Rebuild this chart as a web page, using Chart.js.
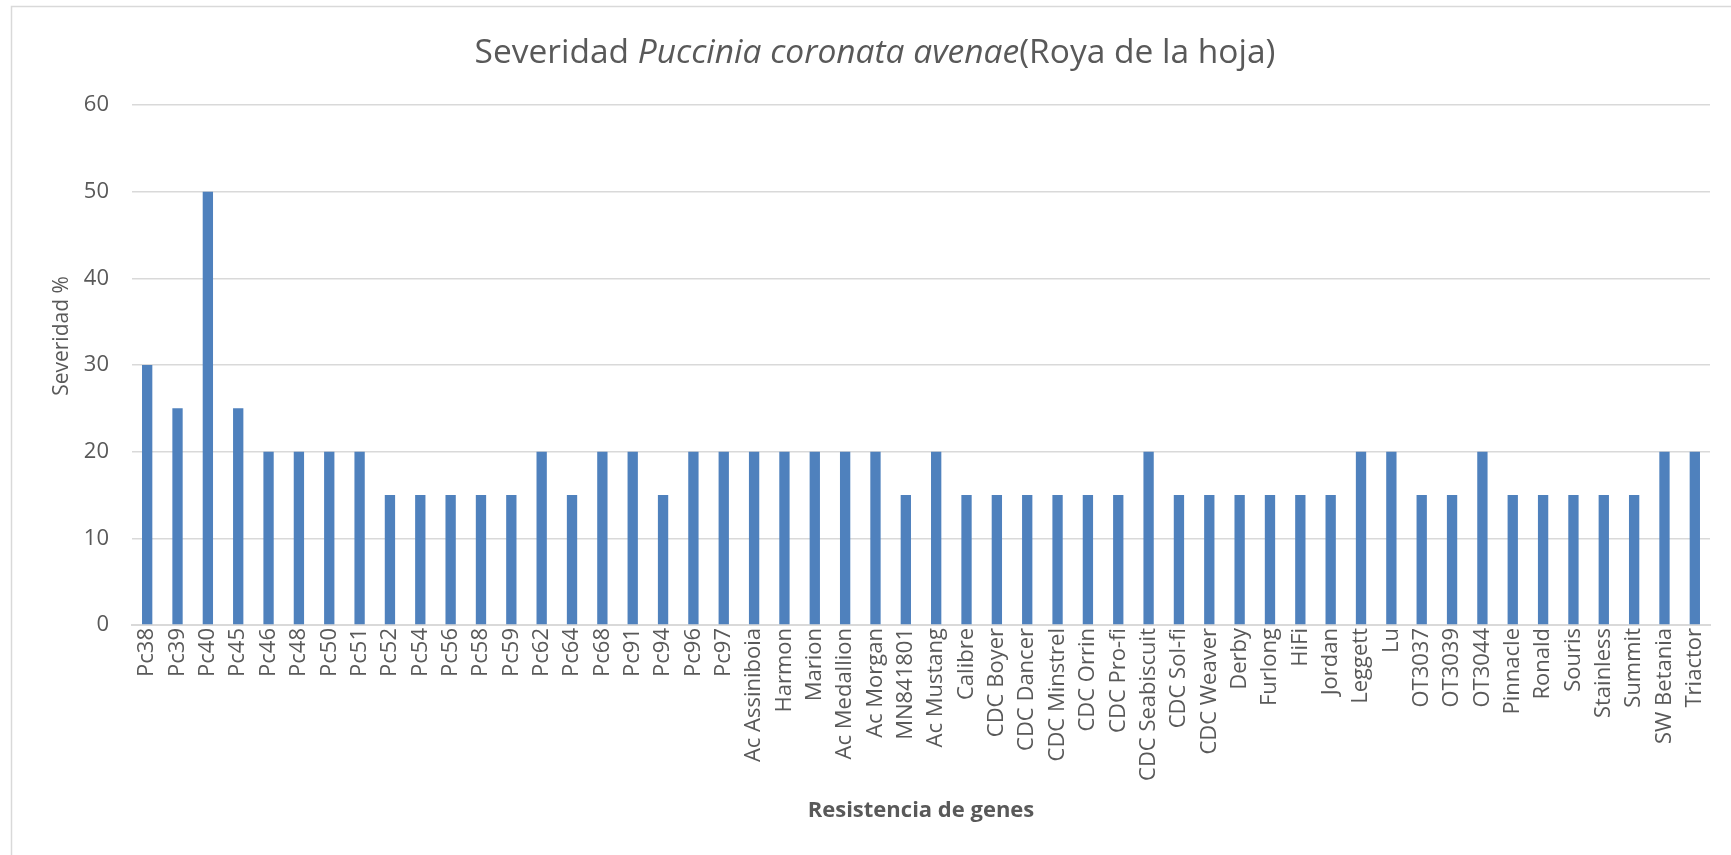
<!DOCTYPE html>
<html>
<head>
<meta charset="utf-8">
<script src="https://cdn.jsdelivr.net/npm/chart.js@4/dist/chart.umd.min.js"></script>
<style>
  html, body { margin: 0; padding: 0; background: #ffffff; }
  #wrap { width: 1731px; height: 855px; position: relative; }
</style>
</head>
<body>
<div id="wrap"><canvas id="c" width="1731" height="855"></canvas></div>
<script>
const categories = ["Pc38","Pc39","Pc40","Pc45","Pc46","Pc48","Pc50","Pc51","Pc52","Pc54","Pc56","Pc58","Pc59","Pc62","Pc64","Pc68","Pc91","Pc94","Pc96","Pc97","Ac Assiniboia","Harmon","Marion","Ac Medallion","Ac Morgan","MN841801","Ac Mustang","Calibre","CDC Boyer","CDC Dancer","CDC Minstrel","CDC Orrin","CDC Pro-fi","CDC Seabiscuit","CDC Sol-fi","CDC Weaver","Derby","Furlong","HiFi","Jordan","Leggett","Lu","OT3037","OT3039","OT3044","Pinnacle","Ronald","Souris","Stainless","Summit","SW Betania","Triactor"];
const severidad = [30,25,50,25,20,20,20,20,15,15,15,15,15,20,15,20,20,15,20,20,20,20,20,20,20,15,20,15,15,15,15,15,15,20,15,15,15,15,15,15,20,20,15,15,20,15,15,15,15,15,20,20];
const yTicks = [0,10,20,30,40,50,60];
const titleParts = [
  {text: "Severidad ", italic: false},
  {text: "Puccinia coronata avenae", italic: true},
  {text: "(Roya de la hoja)", italic: false}
];
const yAxisTitle = "Severidad %";
const xAxisTitle = "Resistencia de genes";

const TEXT = "#595959";
const FONT = "'Open Sans', 'DejaVu Sans', sans-serif";

const decorPlugin = {
  id: 'decor',
  beforeDraw(chart) {
    const ctx = chart.ctx;
    ctx.save();
    ctx.strokeStyle = "#d9d9d9";
    ctx.lineWidth = 1.5;
    ctx.beginPath();
    ctx.moveTo(11.5, chart.height);
    ctx.lineTo(11.5, 6.5);
    ctx.lineTo(chart.width, 6.5);
    ctx.stroke();
    ctx.restore();
  },
  afterDraw(chart) {
    const ctx = chart.ctx;
    ctx.save();
    ctx.fillStyle = TEXT;
    ctx.textBaseline = "middle";
    const size = 33.5;
    let total = 0;
    const widths = titleParts.map(p => {
      ctx.font = (p.italic ? "italic " : "") + size + "px " + FONT;
      const w = ctx.measureText(p.text).width;
      total += w;
      return w;
    });
    let x = 875 - total / 2;
    titleParts.forEach((p, i) => {
      ctx.font = (p.italic ? "italic " : "") + size + "px " + FONT;
      ctx.textAlign = "left";
      ctx.fillText(p.text, x, 53);
      x += widths[i];
    });
    ctx.save();
    ctx.translate(62, 336);
    ctx.rotate(-Math.PI / 2);
    ctx.textAlign = "center";
    ctx.font = "21px " + FONT;
    ctx.fillText(yAxisTitle, 0, 0);
    ctx.restore();
    ctx.restore();
  }
};

new Chart(document.getElementById('c'), {
  type: 'bar',
  data: {
    labels: categories,
    datasets: [{
      label: 'Severidad',
      data: severidad,
      backgroundColor: '#4F81BD',
      borderWidth: 0,
      barPercentage: 0.34,
      categoryPercentage: 1.0
    }]
  },
  options: {
    responsive: false,
    animation: false,
    devicePixelRatio: 1,
    layout: { padding: { top: 105, right: 21, bottom: 0, left: 0 } },
    plugins: {
      legend: { display: false },
      title: { display: false },
      tooltip: { enabled: false }
    },
    scales: {
      x: {
        grid: { display: false, drawTicks: false },
        border: { display: true, color: '#d9d9d9', width: 2 },
        ticks: {
          color: TEXT,
          font: { family: FONT, size: 22 },
          maxRotation: 90,
          minRotation: 90,
          autoSkip: false,
          padding: 3
        },
        title: {
          display: true,
          text: xAxisTitle,
          color: TEXT,
          font: { family: FONT, size: 22, weight: 'bold' },
          padding: { top: 0, bottom: 31 }
        },
        afterFit(scale) { scale.height = 230; }
      },
      y: {
        min: 0,
        max: 60,
        afterBuildTicks(scale) { scale.ticks = yTicks.map(v => ({ value: v })); },
        grid: { color: '#d9d9d9', lineWidth: 1.5, drawTicks: false },
        border: { display: false },
        ticks: {
          color: TEXT,
          font: { family: FONT, size: 22 },
          padding: 23
        },
        afterFit(scale) { scale.width = 132; }
      }
    }
  },
  plugins: [decorPlugin]
});
</script>
</body>
</html>
